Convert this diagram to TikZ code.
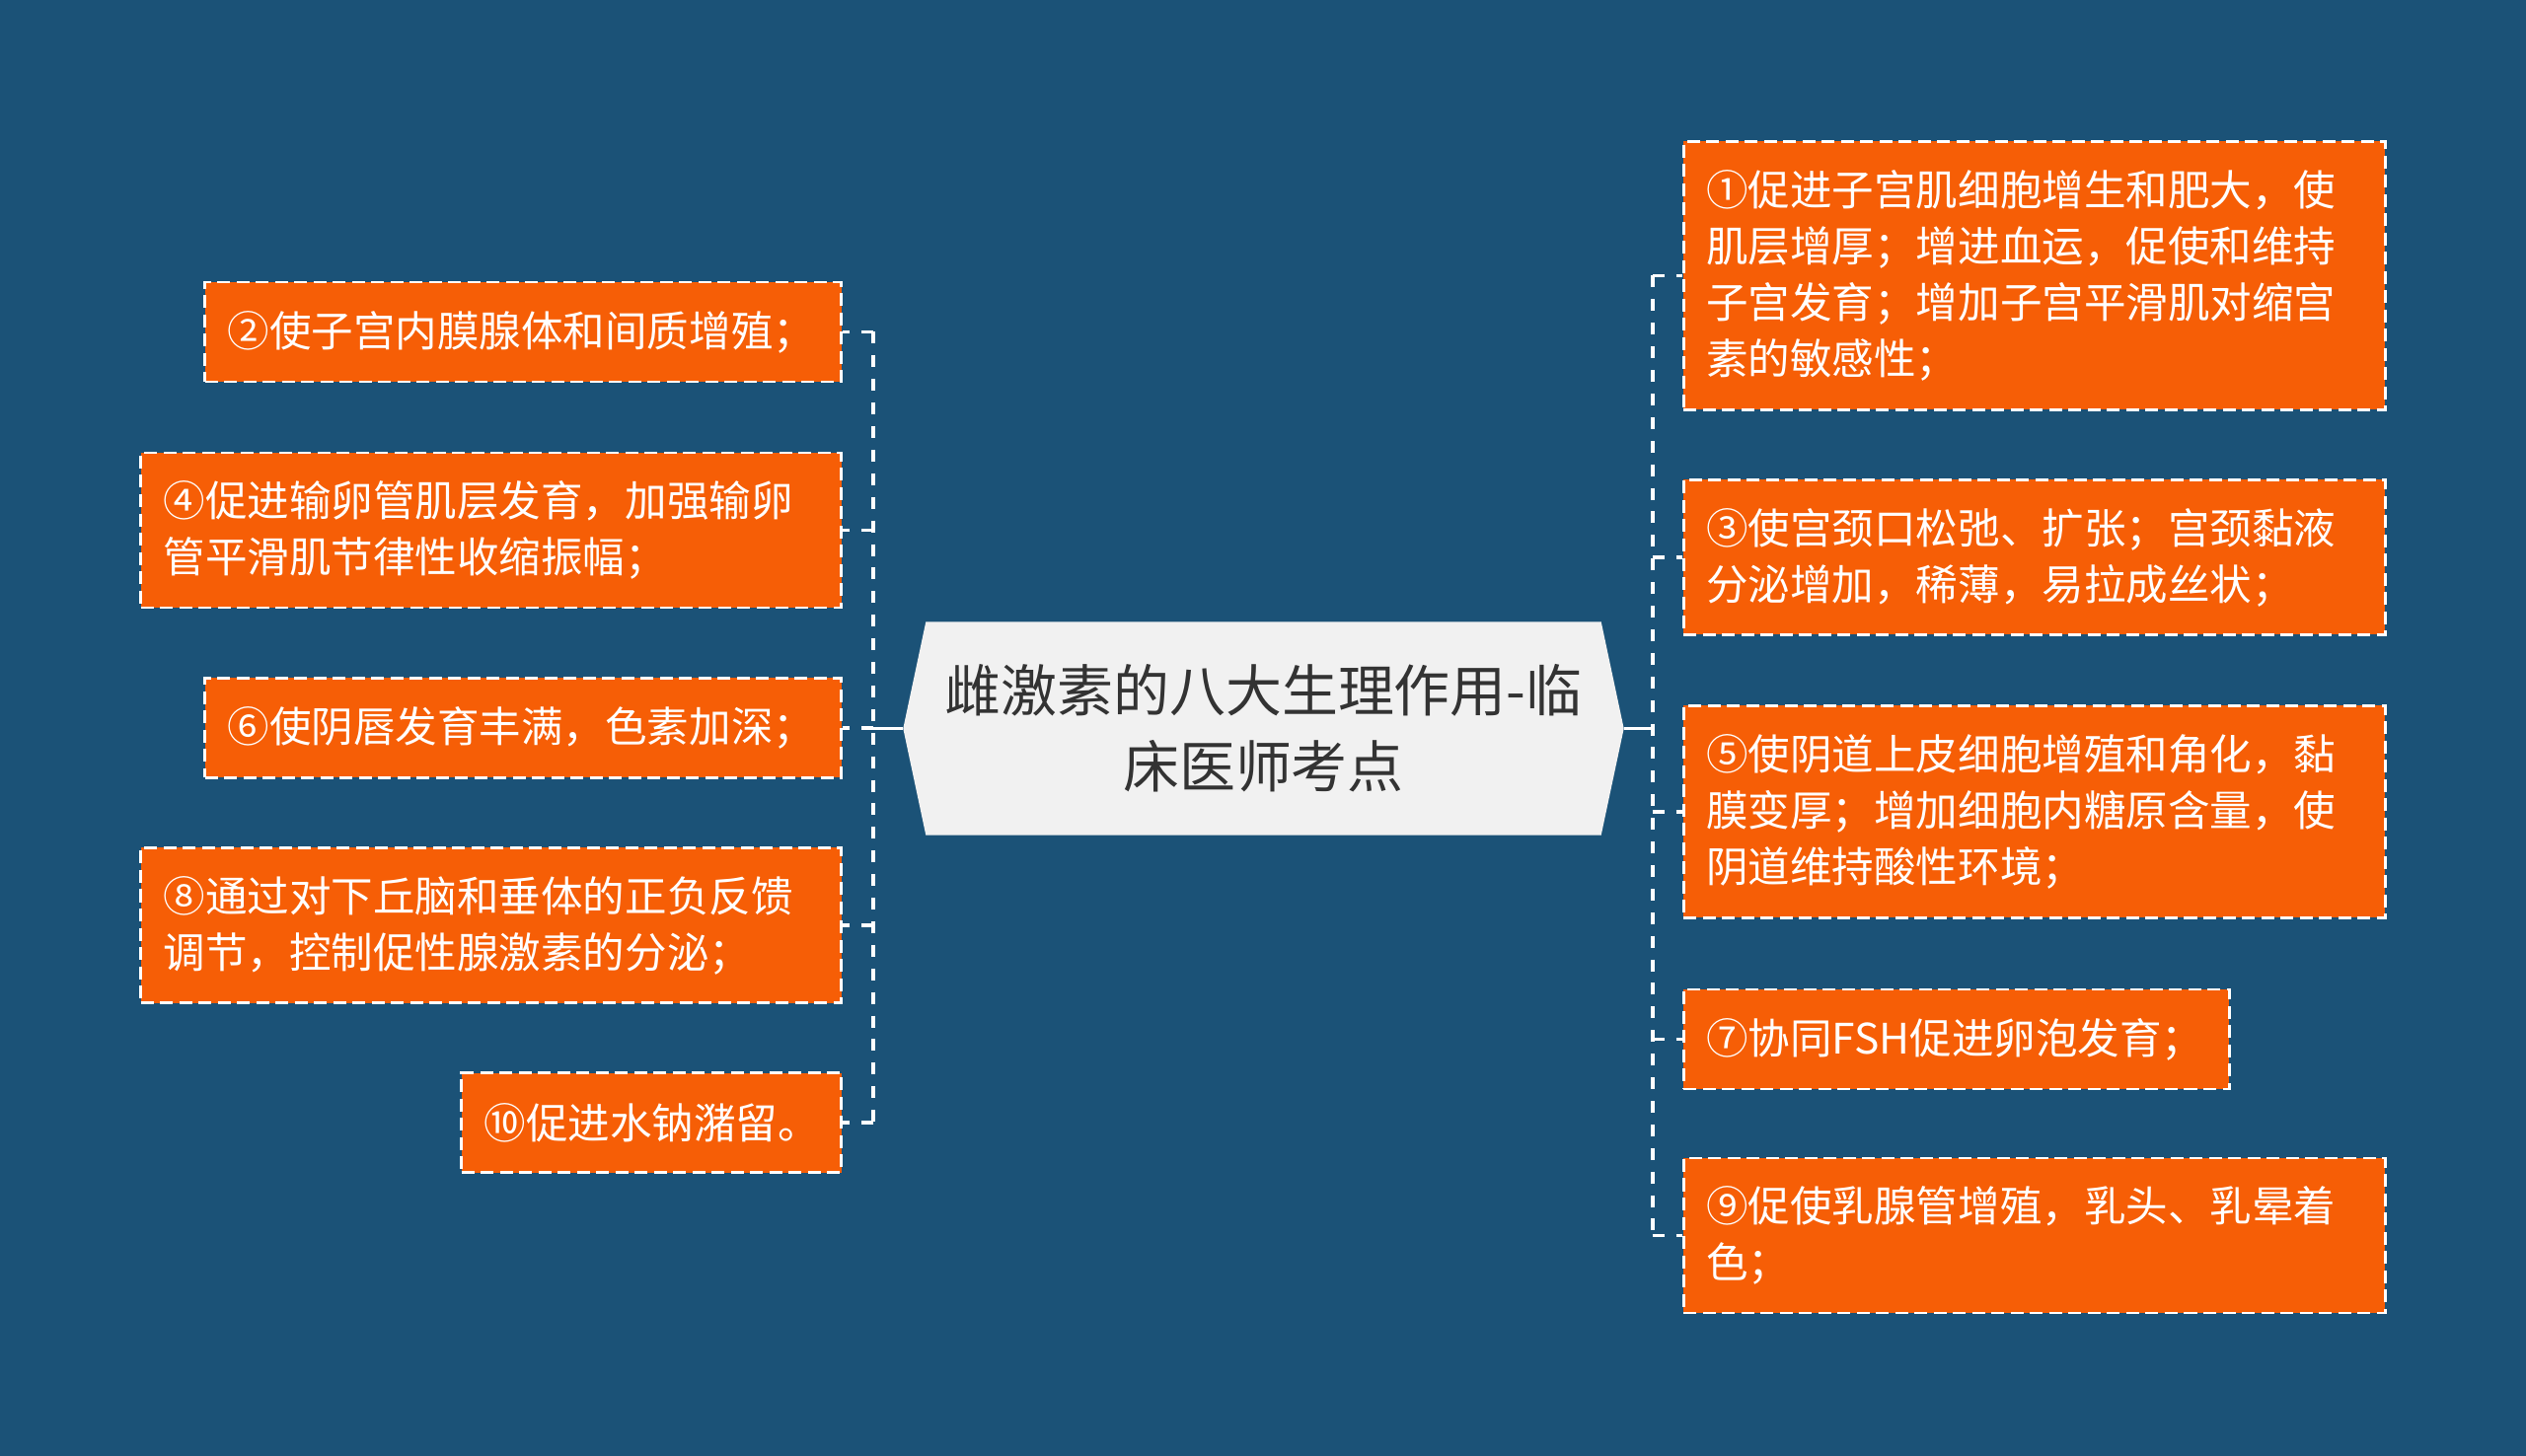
\documentclass[tikz,border=0pt]{standalone}
\usepackage{fontspec}
\newfontfamily\cjk{Noto Sans CJK SC}
\usetikzlibrary{backgrounds}
\definecolor{deepblue}{RGB}{27,82,119}
\definecolor{leaforange}{RGB}{246,94,6}
\definecolor{hubgray}{RGB}{241,241,241}
\definecolor{hubtext}{RGB}{51,51,51}
\tikzset{
    leaf/.style={draw=white, fill=leaforange, line width=0.75pt, dash pattern=on 3.7pt off 1.85pt,
        text=white, font=\cjk\fontsize{12.1pt}{16.2pt}\selectfont, align=left,
        inner xsep=0.23cm, inner ysep=0pt, minimum height=#1},
    hub/.style={text=hubtext, font=\cjk\fontsize{16.2pt}{21.9pt}\selectfont, align=center,
        minimum width=7.29cm, minimum height=2.15cm},
    branch/.style={draw=white, line width=1.1pt, dash pattern=on 3.4pt off 3.4pt},
    stem/.style={draw=white, line width=1.1pt}
}
\begin{document}
\begin{tikzpicture}
                \useasboundingbox (0, 0) rectangle (25.6, -14.76);
                \node[hub] (title) at (12.805, -7.385) {雌激素的八大生理作用-临\\床医师考点};
                % left side
                \node[leaf=1.01cm, text width=5.99cm, anchor=east] (b2) at (8.54, -3.365) {②使子宫内膜腺体和间质增殖；};
                \node[leaf=1.57cm, text width=6.64cm, anchor=east] (b4) at (8.54, -5.375) {④促进输卵管肌层发育，加强输卵\\管平滑肌节律性收缩振幅；};
                \node[leaf=1.01cm, text width=5.99cm, anchor=east] (b6) at (8.54, -7.38) {⑥使阴唇发育丰满，色素加深；};
                \node[leaf=1.57cm, text width=6.64cm, anchor=east] (b8) at (8.54, -9.38) {⑧通过对下丘脑和垂体的正负反馈\\调节，控制促性腺激素的分泌；};
                \node[leaf=1.01cm, text width=3.39cm, anchor=east] (b10) at (8.54, -11.38) {⑩促进水钠潴留。};
                % right side
                \node[leaf=2.72cm, text width=6.65cm, anchor=west] (b1) at (17.05, -2.795) {①促进子宫肌细胞增生和肥大，使\\肌层增厚；增进血运，促使和维持\\子宫发育；增加子宫平滑肌对缩宫\\素的敏感性；};
                \node[leaf=1.57cm, text width=6.65cm, anchor=west] (b3) at (17.05, -5.65) {③使宫颈口松弛、扩张；宫颈黏液\\分泌增加，稀薄，易拉成丝状；};
                \node[leaf=2.15cm, text width=6.65cm, anchor=west] (b5) at (17.05, -8.23) {⑤使阴道上皮细胞增殖和角化，黏\\膜变厚；增加细胞内糖原含量，使\\阴道维持酸性环境；};
                \node[leaf=1.01cm, text width=5.07cm, anchor=west] (b7) at (17.05, -10.535) {⑦协同FSH促进卵泡发育；};
                \node[leaf=1.57cm, text width=6.65cm, anchor=west] (b9) at (17.05, -12.525) {⑨促使乳腺管增殖，乳头、乳晕着\\色；};
                \begin{pgfonlayer}{background}
                    \fill (0, 0) rectangle (25.6, -14.76) [deepblue];
                    \fill (title.west)--([xshift=0.23cm]title.north west)--([xshift=-0.23cm]title.north east)--(title.east)--([xshift=-0.23cm]title.south east)--([xshift=0.23cm]title.south west)--cycle [hubgray];
                \end{pgfonlayer}
                \coordinate (lj) at ([xshift=-0.3cm]title.west);
                \coordinate (rj) at ([xshift=0.29cm]title.east);
                \draw (title.west)--(lj) [stem];
                \draw (title.east)--(rj) [stem];
                \draw (lj |- b2.east)--(lj |- b10.east) [branch];
                \draw (rj |- b1.west)--(rj |- b9.west) [branch];
                \foreach \b in {b2, b4, b6, b8, b10}
                    \draw (lj |- \b.east)--(\b.east) [branch];
                \foreach \b in {b1, b3, b5, b7, b9}
                    \draw (rj |- \b.west)--(\b.west) [branch];
            \end{tikzpicture}
\end{document}
